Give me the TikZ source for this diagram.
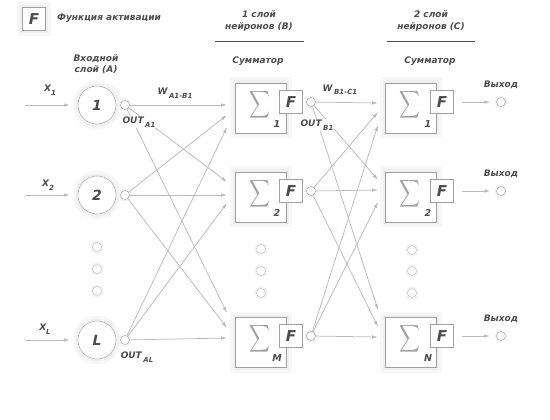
\documentclass[tikz,border=0pt]{standalone}
\usepackage{fontspec}
\setmainfont{DejaVu Sans}
\usetikzlibrary{arrows.meta,calc,positioning}
\definecolor{txtgray}{HTML}{4C4C4C}
\definecolor{edgegray}{HTML}{A0A0A0}
\definecolor{linegray}{HTML}{BBBBBB}
\newcommand{\lsub}[1]{\raisebox{-3.5pt}{\fontsize{7}{7}\selectfont #1}}
\begin{document}
\begin{tikzpicture}[x=1pt,y=-1pt,
    lbl/.style={text=txtgray,inner sep=1pt,align=center,font=\fontsize{9}{11.5}\selectfont\bfseries\itshape},
    glow/.style={preaction={draw=black!3,line width=11pt},preaction={draw=black!6,line width=5pt}},
    neuron/.style={circle,draw=edgegray,fill=white,minimum size=38pt,inner sep=0pt,glow,text=txtgray,font=\fontsize{14}{14}\selectfont\bfseries\itshape},
    port/.style={circle,draw=edgegray,fill=white,minimum size=9pt,inner sep=0pt,preaction={draw=black!5,line width=4pt}},
    dotc/.style={port,draw=black!25},
    sumbox/.style={rectangle,draw=edgegray,fill=white,minimum width=51pt,minimum height=50pt,glow},
    fbox/.style={rectangle,draw=edgegray,fill=white,minimum size=23pt,inner sep=0pt,text=txtgray,font=\fontsize{15}{15}\selectfont\bfseries\itshape},
    sigma/.style={text=edgegray,inner sep=0pt},
    idx/.style={lbl,font=\fontsize{9.5}{9.5}\selectfont\bfseries\itshape},
    conn/.style={draw=linegray,line width=0.75pt,-{Latex[length=6pt,width=3.5pt]}},
    hline/.style={draw=txtgray,line width=0.8pt}]
    \useasboundingbox (0,0) rectangle (550,420);
    % legend
    \node[fbox,glow] (legF) at (34,19) {F};
    \node[lbl,anchor=west] (legtxt) at (56,18) {Функция активации};
    % headers
    \node[lbl] (hin) at (96,64) {Входной\\слой (A)};
    \node[lbl] (hb) at (259,21) {1 слой\\нейронов (B)};
    \draw[hline] (215,41) -- (304,41);
    \node[lbl] (hc) at (431,21) {2 слой\\нейронов (C)};
    \draw[hline] (387,41) -- (475,41);
    \node[lbl] (sumb) at (258,61) {Сумматор};
    \node[lbl] (sumc) at (430,61) {Сумматор};
    % input layer
    \foreach \i/\y/\t in {1/105/1, 2/195/2, 3/340/L} {
        \node[neuron] (a\i) at (97,\y) {\t};
        \node[port] (oa\i) at (125,\y) {};
        \coordinate (xin\i) at (25,\y);
        \draw[conn,shorten >=8pt] (xin\i) -- (a\i);
    }
    \node[lbl] (xl1) at (50,90) {X\lsub{1}};
    \node[lbl] (xl2) at (48,185) {X\lsub{2}};
    \node[lbl] (xl3) at (45,329) {X\lsub{L}};
    % layer B
    \foreach \j/\y/\t in {1/108/1, 2/197/2, 3/342/M} {
        \node[sumbox] (b\j) at (261,\y) {};
        \node[sigma] (sb\j) at ($(b\j)+(-1,-3)$) {\scalebox{1.45}[1.9]{$\displaystyle\sum$}};
        \node[fbox] (fb\j) at ($(b\j)+(30,-6)$) {F};
        \node[idx] (nb\j) at ($(b\j)+(16,16)$) {\t};
        \node[port] (ob\j) at ($(b\j)+(50,-6)$) {};
    }
    % layer C
    \foreach \j/\y/\t in {1/108/1, 2/197/2, 3/342/N} {
        \node[sumbox] (c\j) at (411,\y) {};
        \node[sigma] (sc\j) at ($(c\j)+(-1,-3)$) {\scalebox{1.45}[1.9]{$\displaystyle\sum$}};
        \node[fbox] (fc\j) at ($(c\j)+(31,-6)$) {F};
        \node[idx] (nc\j) at ($(c\j)+(17,16)$) {\t};
        \node[port] (oc\j) at ($(c\j)+(90,-6)$) {};
        \node[lbl,above=7pt of oc\j] (yc\j) {Выход};
        \draw[conn,shorten <=8pt,shorten >=6pt] (fc\j) -- (oc\j);
    }
    % dots
    \foreach \y [count=\k] in {247,269,291} \node[dotc] (da\k) at (97,\y) {};
    \foreach \y [count=\k] in {249,271,293} \node[dotc] (db\k) at (261,\y) {};
    \foreach \y [count=\k] in {250,271,293} \node[dotc] (dc\k) at (412,\y) {};
    % arrow ends
    \foreach \j/\ya/\yb/\yc in {1/105/115/127, 2/182/195/203, 3/313/328/338} {
        \coordinate (bin\j1) at (227,\ya);
        \coordinate (bin\j2) at (227,\yb);
        \coordinate (bin\j3) at (227,\yc);
    }
    \foreach \j/\ya/\yb/\yc in {1/103/112/125, 2/180/190/202, 3/310/327/337} {
        \coordinate (cin\j1) at (378,\ya);
        \coordinate (cin\j2) at (378,\yb);
        \coordinate (cin\j3) at (378,\yc);
    }
    \foreach \i in {1,2,3}
        \foreach \j in {1,2,3} {
            \draw[conn] (oa\i) -- (bin\j\i);
            \draw[conn] (ob\i) -- (cin\j\i);
        }
    % weights and outputs
    \node[lbl] (wab) at (175,93) {W\,\lsub{A1-B1}};
    \node[lbl] (wbc) at (340,90) {W\,\lsub{B1-C1}};
    \node[lbl,fill=white] (outa1) at (139,122) {OUT\,\lsub{A1}};
    \node[lbl,fill=white] (outal) at (137,357) {OUT\,\lsub{AL}};
    \node[lbl,fill=white] (outb1) at (317,125) {OUT\,\lsub{B1}};
\end{tikzpicture}
\end{document}
